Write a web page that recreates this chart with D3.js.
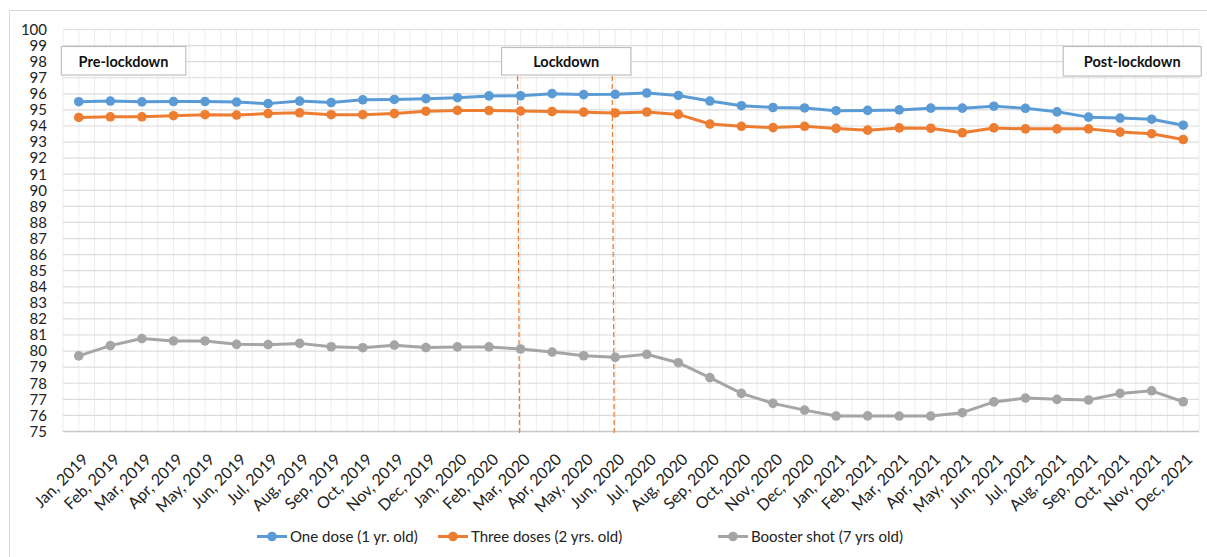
<!DOCTYPE html>
<html><head><meta charset="utf-8">
<script src="https://cdn.jsdelivr.net/npm/d3@7"></script>
<style>
html,body{margin:0;padding:0;background:#fff;}
svg{display:block;font-family:Lato,"Open Sans",sans-serif;}
</style></head>
<body>
<svg id="chart" width="1207" height="557"></svg>
<script>
const months = ["Jan, 2019","Feb, 2019","Mar, 2019","Apr, 2019","May, 2019","Jun, 2019","Jul, 2019","Aug, 2019","Sep, 2019","Oct, 2019","Nov, 2019","Dec, 2019",
"Jan, 2020","Feb, 2020","Mar, 2020","Apr, 2020","May, 2020","Jun, 2020","Jul, 2020","Aug, 2020","Sep, 2020","Oct, 2020","Nov, 2020","Dec, 2020",
"Jan, 2021","Feb, 2021","Mar, 2021","Apr, 2021","May, 2021","Jun, 2021","Jul, 2021","Aug, 2021","Sep, 2021","Oct, 2021","Nov, 2021","Dec, 2021"];
const oneDose = [95.51,95.55,95.5,95.52,95.52,95.49,95.39,95.55,95.46,95.63,95.65,95.7,
95.76,95.87,95.88,96.01,95.95,95.97,96.05,95.9,95.55,95.26,95.15,95.12,
94.95,94.97,95.0,95.11,95.11,95.23,95.1,94.88,94.55,94.49,94.42,94.05];
const threeDoses = [94.53,94.57,94.57,94.64,94.7,94.68,94.77,94.82,94.7,94.7,94.77,94.92,
94.97,94.96,94.93,94.9,94.86,94.81,94.87,94.72,94.12,93.98,93.9,93.98,
93.85,93.74,93.88,93.86,93.58,93.88,93.82,93.82,93.82,93.62,93.52,93.16];
const booster = [79.7,80.34,80.78,80.63,80.63,80.42,80.4,80.48,80.27,80.21,80.37,
80.22,80.26,80.26,80.13,79.94,79.71,79.61,79.8,79.28,78.35,77.37,76.75,76.33,
75.96,75.97,75.96,75.96,76.17,76.84,77.08,77.0,76.96,77.37,77.53,76.85];
const seriesNames = ["One dose (1 yr. old)","Three doses (2 yrs. old)","Booster shot (7 yrs old)"];
const seriesColors = ["#5B9BD5","#ED7D31","#A5A5A5"];
const yTicks = d3.range(75,101,1);
const periods = [
  {label:"Pre-lockdown", from:"Jan, 2019"},
  {label:"Lockdown", from:"Mar, 2020", to:"Jun, 2020"},
  {label:"Post-lockdown", from:"Dec, 2021"}
];
const lockdownMarks = ["Mar, 2020","Jun, 2020"];

const svg = d3.select("#chart");
const L = 63, R = 1199, T = 29.5, B = 431.5;

// outer chart border
svg.append("rect").attr("x",9.5).attr("y",10.5).attr("width",1210).attr("height",570)
  .attr("fill","#fff").attr("stroke","#d9d9d9").attr("stroke-width",1);

const x = d3.scalePoint().domain(months).range([L,R]).padding(0.5);
const y = d3.scaleLinear().domain([75,100]).range([B,T]);
const step = x.step();

// vertical gridlines (every half category)
const vg = d3.range(0, months.length*2+1).map(k => L + k*step/2);
svg.append("g").selectAll("line").data(vg).join("line")
  .attr("x1",d=>d).attr("x2",d=>d).attr("y1",T).attr("y2",B)
  .attr("stroke","#ececec").attr("stroke-width",1);

// horizontal gridlines
svg.append("g").selectAll("line").data(yTicks).join("line")
  .attr("x1",L).attr("x2",R).attr("y1",d=>y(d)).attr("y2",d=>y(d))
  .attr("stroke",d=>d===75?"#c8c8c8":"#dcdcdc").attr("stroke-width",d=>d===75?1.5:1.2);

// y axis labels
const yAxis = d3.axisLeft(y).tickValues(yTicks).tickSize(0).tickPadding(0).tickFormat(d3.format("d"));
const ya = svg.append("g").attr("transform",`translate(${L-16},0)`).call(yAxis);
ya.select(".domain").remove();
ya.selectAll("text").attr("font-size","15px").attr("fill","#222").attr("font-family","Lato,sans-serif");

// x axis labels
const xAxis = d3.axisBottom(x).tickSize(0).tickPadding(0);
const xa = svg.append("g").attr("transform",`translate(0,${B})`).call(xAxis);
xa.select(".domain").remove();
xa.selectAll("text")
  .attr("font-size","16px").attr("fill","#222").attr("font-family","Lato,sans-serif")
  .attr("text-anchor","end").attr("dy","0.35em")
  .attr("transform","translate(6,25) rotate(-45)");

// lockdown dashed lines
svg.append("g").selectAll("line").data(lockdownMarks).join("line")
  .attr("x1",d=>x(d)-3).attr("x2",d=>x(d)-1).attr("y1",76).attr("y2",B+2)
  .attr("stroke","#ED7D31").attr("stroke-width",1.3).attr("stroke-dasharray","5,3");

// series
const allSeries = [oneDose, threeDoses, booster];
const line = d3.line().x((d,i)=>x(months[i])).y(d=>y(d));
allSeries.forEach((vals,si)=>{
  const g = svg.append("g");
  g.append("path").datum(vals).attr("d",line).attr("fill","none")
    .attr("stroke",seriesColors[si]).attr("stroke-width",3).attr("stroke-linejoin","round");
  g.selectAll("circle").data(vals).join("circle")
    .attr("cx",(d,i)=>x(months[i])).attr("cy",d=>y(d)).attr("r",4.8)
    .attr("fill",seriesColors[si]);
});

// period boxes
const boxes = [
  {label:periods[0].label, x0:x(periods[0].from)-17.5, x1:x(periods[0].from)+107},
  {label:periods[1].label, x0:x(periods[1].from)-19, x1:(x(periods[1].from)+x(periods[1].to))/2+63},
  {label:periods[2].label, x0:x(periods[2].from)-120, x1:x(periods[2].from)+18}
];
boxes.forEach((b,i)=>{
  const y0 = i===1?47.5:46.5, y1 = i===2?76:75;
  svg.append("rect").attr("x",b.x0).attr("y",y0).attr("width",b.x1-b.x0).attr("height",y1-y0)
    .attr("fill","#fff").attr("stroke","#bfbfbf").attr("stroke-width",1.2);
  svg.append("text").attr("x",(b.x0+b.x1)/2).attr("y",(y0+y1)/2+1).attr("dy","0.35em")
    .attr("text-anchor","middle").attr("font-weight","bold").attr("font-size","14.5px")
    .attr("fill","#111").attr("font-family","Lato,sans-serif").text(b.label);
});

// legend
const legX = [257, 438, 718];
const legY = 536.5;
seriesNames.forEach((n,i)=>{
  const g = svg.append("g").attr("transform",`translate(${legX[i]},${legY})`);
  g.append("line").attr("x1",0).attr("x2",30).attr("y1",0).attr("y2",0)
    .attr("stroke",seriesColors[i]).attr("stroke-width",3);
  g.append("circle").attr("cx",15).attr("cy",0).attr("r",4.8).attr("fill",seriesColors[i]);
  g.append("text").attr("x",33).attr("y",0).attr("dy","0.35em")
    .attr("font-size","15px").attr("fill","#222").attr("font-family","Lato,sans-serif").text(n);
});
</script>
</body></html>
